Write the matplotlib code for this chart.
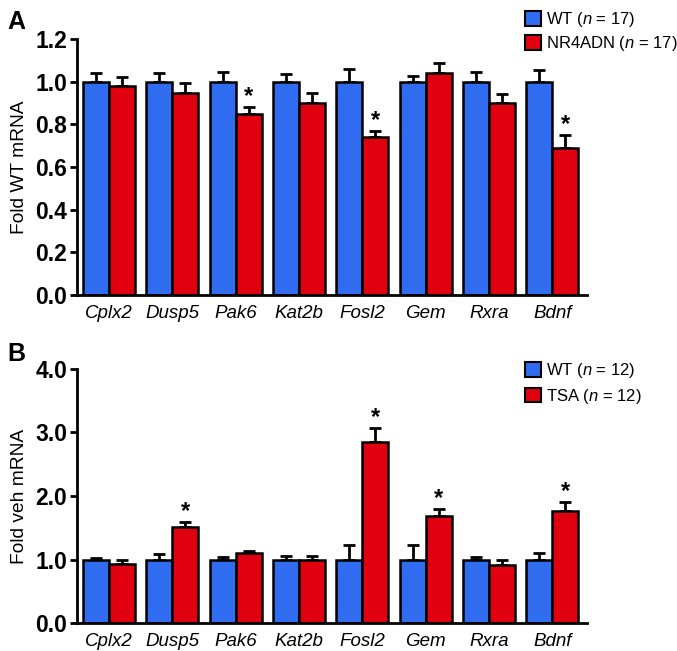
import matplotlib
matplotlib.use("Agg")
import matplotlib.pyplot as plt
from matplotlib.patches import Patch
import numpy as np

plt.rcParams['font.family'] = ['Liberation Sans', 'DejaVu Sans']
plt.rcParams['mathtext.fontset'] = 'custom'
plt.rcParams['mathtext.it'] = 'Liberation Sans:italic'
plt.rcParams['mathtext.rm'] = 'Liberation Sans'

genes = ["Cplx2", "Dusp5", "Pak6", "Kat2b", "Fosl2", "Gem", "Rxra", "Bdnf"]

# Panel A
a_wt = [1.0, 1.0, 1.0, 1.0, 1.0, 1.0, 1.0, 1.0]
a_wt_err = [0.042, 0.04, 0.047, 0.037, 0.061, 0.028, 0.045, 0.056]
a_dn = [0.981, 0.946, 0.849, 0.90, 0.741, 1.04, 0.90, 0.69]
a_dn_err = [0.042, 0.048, 0.034, 0.048, 0.028, 0.048, 0.042, 0.058]
a_sig = [False, False, True, False, True, False, False, True]

# Panel B
b_wt = [1.0, 1.0, 1.0, 1.0, 1.0, 1.0, 1.0, 1.0]
b_wt_err = [0.03, 0.09, 0.04, 0.05, 0.23, 0.23, 0.04, 0.10]
b_tsa = [0.93, 1.507, 1.10, 0.99, 2.856, 1.69, 0.92, 1.77]
b_tsa_err = [0.06, 0.08, 0.04, 0.06, 0.22, 0.11, 0.065, 0.14]
b_sig = [False, True, False, False, True, True, False, True]

BLUE = "#2f6cf0"
RED = "#e00010"

fig = plt.figure(figsize=(6.77, 6.51), dpi=100)
axA = fig.add_axes([0.1137, 0.5469, 0.7535, 0.3932])
axB = fig.add_axes([0.1137, 0.0430, 0.7535, 0.3902])

def draw(ax, wt, wt_err, tr, tr_err, sig, ymax, ticks, fmt, ylabel, star_off):
    x = np.arange(len(genes))
    w = 0.41
    ax.bar(x - w/2, wt, w, color=BLUE, edgecolor="black", linewidth=1.8, zorder=2)
    ax.bar(x + w/2, tr, w, color=RED, edgecolor="black", linewidth=1.8, zorder=2)
    for xs, vals, errs in ((x - w/2, wt, wt_err), (x + w/2, tr, tr_err)):
        ax.errorbar(xs, vals, yerr=[np.zeros(len(vals)), errs], fmt="none",
                    ecolor="black", elinewidth=2, capsize=4.5, capthick=2, zorder=1)
    for i, s in enumerate(sig):
        if s:
            ax.text(x[i] + w/2, tr[i] + tr_err[i] + star_off, "*", ha="center",
                    va="bottom", fontsize=17, fontweight="bold")
    ax.set_xlim(-0.504, 7.55)
    ax.set_ylim(0, ymax)
    ax.set_yticks(ticks)
    ax.set_yticklabels([fmt.format(t) for t in ticks], fontsize=16.5, fontweight="bold")
    ax.set_xticks(x)
    ax.set_xticklabels(genes, fontsize=13.5, style="italic")
    ax.tick_params(axis="x", length=0, pad=7)
    ax.tick_params(axis="y", length=5, width=2, direction="out", pad=2)
    for sp in ("top", "right"):
        ax.spines[sp].set_visible(False)
    for sp in ("left", "bottom"):
        ax.spines[sp].set_linewidth(2)
    ax.set_ylabel(ylabel, fontsize=13.8, labelpad=5)

draw(axA, a_wt, a_wt_err, a_dn, a_dn_err, a_sig, 1.2,
     [0.0, 0.2, 0.4, 0.6, 0.8, 1.0, 1.2], "{:.1f}", "Fold WT mRNA", -0.005)
draw(axB, b_wt, b_wt_err, b_tsa, b_tsa_err, b_sig, 4.0,
     [0.0, 1.0, 2.0, 3.0, 4.0], "{:.1f}", "Fold veh mRNA", -0.02)

def legend(ax, labels, anchor, spacing):
    handles = [Patch(facecolor=BLUE, edgecolor="black", linewidth=1.5),
               Patch(facecolor=RED, edgecolor="black", linewidth=1.5)]
    ax.legend(handles, labels, loc="upper left", bbox_to_anchor=anchor,
              bbox_transform=fig.transFigure, frameon=False, fontsize=12,
              handlelength=0.95, handleheight=0.95, handletextpad=0.3,
              labelspacing=spacing, borderpad=0, borderaxespad=0)

legend(axA, ["WT ($n$ = 17)", "NR4ADN ($n$ = 17)"], (0.775, 0.984), 0.3)
legend(axB, ["WT ($n$ = 12)", "TSA ($n$ = 12)"], (0.775, 0.445), 0.4)

fig.text(0.011, 0.985, "A", fontsize=18, fontweight="bold", va="top")
fig.text(0.011, 0.474, "B", fontsize=18, fontweight="bold", va="top")

fig.savefig("out.png", dpi=100)
